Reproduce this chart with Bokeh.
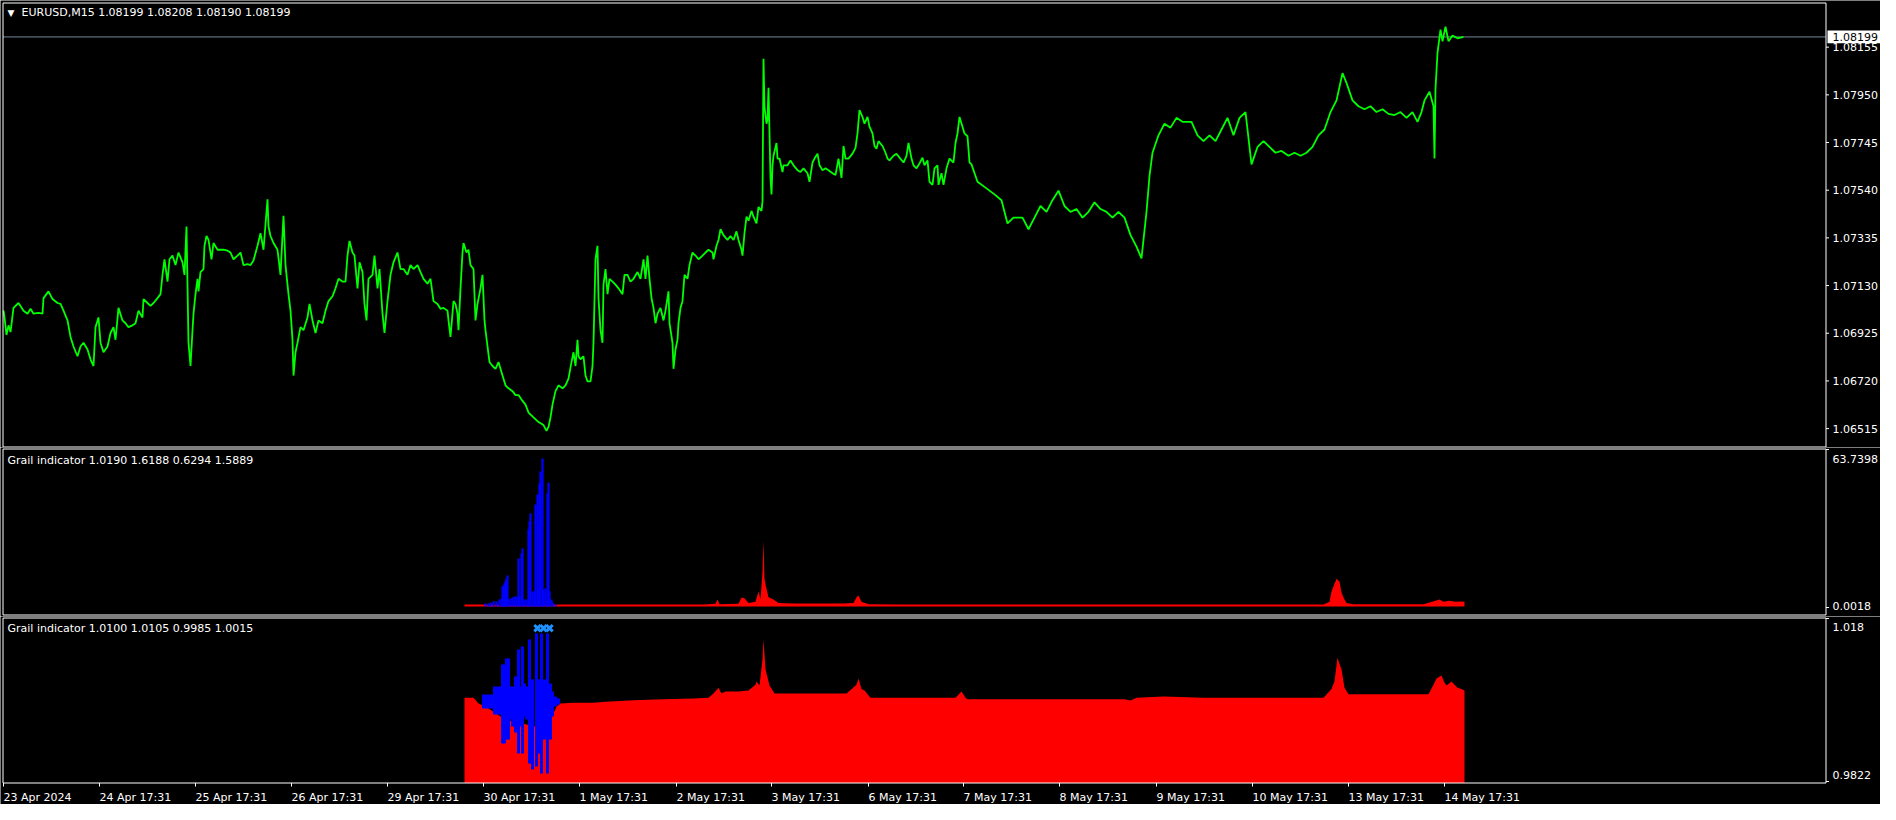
from bokeh.plotting import figure
from bokeh.models import Range1d, ColumnDataSource, Label
from bokeh.core.properties import value
from bokeh.layouts import column
from bokeh.embed import file_html
from bokeh.resources import INLINE

# ---------------- data ----------------
symbol_title = "EURUSD,M15  1.08199 1.08208 1.08190 1.08199"
grail1_title = "Grail indicator 1.0190 1.6188 0.6294 1.5889"
grail2_title = "Grail indicator 1.0100 1.0105 0.9985 1.0015"
last_price = 1.08199

# x-axis ticks (bar index) and their labels
tick_bars = [0, 96, 192, 288, 384, 480, 576, 673, 768, 865, 960, 1056, 1153, 1249, 1345, 1441]
tick_labels = ["23 Apr 2024", "24 Apr 17:31", "25 Apr 17:31", "26 Apr 17:31", "29 Apr 17:31",
               "30 Apr 17:31", "1 May 17:31", "2 May 17:31", "3 May 17:31", "6 May 17:31",
               "7 May 17:31", "8 May 17:31", "9 May 17:31", "10 May 17:31", "13 May 17:31",
               "14 May 17:31"]
price_ticks = [1.06515, 1.06720, 1.06925, 1.07130, 1.07335, 1.07540, 1.07745, 1.07950, 1.08155]
g1_ticks = [63.7398, 0.0018]
g1_tick_labels = ["63.7398", "0.0018"]
g2_ticks = [1.018, 0.9822]
g2_tick_labels = ["1.018", "0.9822"]

# EURUSD M15 close (bar index, price)
close_bars = [0, 1, 3, 5, 7, 10, 15, 20, 24, 27, 30, 35, 39, 40, 45, 49, 54, 57, 60, 64, 67, 70, 74, 77, 80, 84, 87, 90, 92, 95,
              97, 100, 104, 107, 110, 112, 115, 119, 122, 125, 129, 132, 135, 139, 140, 144, 147, 150, 154, 157, 159, 161, 164, 166, 169, 172, 175, 179, 181, 183,
              185, 187, 189, 190, 192, 194, 195, 197, 200, 201, 203, 205, 208, 210, 214, 217, 220, 224, 227, 230, 234, 237, 240, 244, 247, 250, 254, 257, 260, 264,
              265, 267, 270, 274, 277, 280, 282, 284, 285, 287, 289, 290, 292, 294, 297, 300, 304, 306, 309, 312, 315, 319, 322, 325, 329, 332, 335, 339, 342, 344,
              346, 349, 351, 354, 356, 359, 361, 363, 365, 369, 371, 374, 376, 379, 381, 384, 387, 390, 394, 397, 400, 404, 407, 410, 414, 417, 420, 424, 427, 430,
              434, 437, 440, 444, 445, 447, 450, 452, 454, 455, 457, 459, 460, 463, 465, 467, 470, 472, 474, 477, 479, 481, 482, 484, 486, 489, 492, 495, 499, 502,
              505, 509, 512, 515, 519, 522, 525, 530, 535, 540, 543, 545, 547, 549, 552, 555, 559, 562, 565, 568, 570, 572, 574, 575, 577, 580, 582, 584, 587, 589,
              590, 592, 594, 595, 597, 599, 600, 602, 604, 606, 609, 612, 615, 619, 621, 624, 627, 630, 634, 637, 640, 642, 644, 646, 648, 650, 652, 654, 657, 660,
              662, 665, 666, 669, 670, 672, 674, 675, 677, 679, 681, 684, 686, 689, 692, 695, 699, 702, 705, 709, 710, 713, 715, 717, 720, 724, 727, 730, 733, 735,
              738, 739, 741, 743, 745, 748, 750, 753, 755, 758, 759, 760, 761, 763, 764, 765, 767, 768, 769, 770, 773, 774, 776, 779, 780, 784, 787, 790, 794, 797,
              800, 804, 806, 809, 811, 814, 816, 819, 822, 825, 829, 832, 835, 838, 840, 842, 845, 849, 852, 854, 856, 859, 861, 864, 866, 869, 871, 873, 875, 879,
              882, 884, 886, 890, 893, 896, 900, 903, 905, 908, 910, 913, 916, 919, 921, 924, 926, 929, 931, 934, 935, 938, 940, 943, 946, 950, 952, 954, 956, 959,
              961, 964, 966, 968, 974, 982, 991, 998, 1004, 1010, 1019, 1025, 1031, 1037, 1043, 1049, 1055, 1061, 1067, 1073, 1079, 1085, 1091, 1097, 1103, 1109, 1115, 1121,
              1127, 1133, 1138, 1143, 1146, 1149, 1155, 1161, 1167, 1173, 1179, 1188, 1194, 1200, 1206, 1212, 1218, 1224, 1230, 1236, 1242, 1248, 1254, 1260, 1266, 1272,
              1278, 1285, 1291, 1297, 1303, 1309, 1315, 1321, 1327, 1333, 1339, 1343, 1349, 1355, 1361, 1367, 1373, 1379, 1385, 1391, 1397, 1403, 1409, 1414, 1418, 1421,
              1426, 1430, 1431, 1432, 1434, 1437, 1439, 1442, 1445, 1449, 1454, 1460]
close_vals = [1.07022, 1.06993, 1.06918, 1.06959, 1.06930, 1.07034, 1.07055, 1.07022, 1.07009, 1.07030, 1.07009, 1.07013, 1.07009, 1.07076, 1.07105, 1.07072, 1.07055, 1.07051, 1.07022, 1.06980, 1.06909, 1.06868, 1.06826, 1.06868, 1.06884, 1.06855, 1.06813, 1.06784, 1.06951, 1.06993,
              1.06884, 1.06843, 1.06868, 1.06926, 1.06951, 1.06897, 1.07034, 1.06980, 1.06968, 1.06951, 1.06959, 1.06968, 1.07022, 1.06993, 1.07072, 1.07055, 1.07043, 1.07055, 1.07076, 1.07093, 1.07176, 1.07243, 1.07147, 1.07243, 1.07259, 1.07218, 1.07272, 1.07230, 1.07176, 1.07384,
              1.06884, 1.06784, 1.06938, 1.07009, 1.07093, 1.07159, 1.07105, 1.07188, 1.07201, 1.07301, 1.07343, 1.07326, 1.07243, 1.07313, 1.07284, 1.07284, 1.07284, 1.07280, 1.07272, 1.07243, 1.07259, 1.07272, 1.07218, 1.07222, 1.07218, 1.07238, 1.07301, 1.07355, 1.07284, 1.07501,
              1.07384, 1.07343, 1.07313, 1.07284, 1.07176, 1.07430, 1.07218, 1.07134, 1.07093, 1.07022, 1.06897, 1.06743, 1.06843, 1.06884, 1.06951, 1.06938, 1.06993, 1.07051, 1.06980, 1.06926, 1.06980, 1.06968, 1.07022, 1.07063, 1.07084, 1.07118, 1.07159, 1.07147, 1.07147, 1.07259,
              1.07322, 1.07272, 1.07259, 1.07118, 1.07230, 1.07188, 1.07051, 1.06980, 1.07159, 1.07176, 1.07259, 1.07118, 1.07201, 1.07009, 1.06926, 1.07063, 1.07176, 1.07230, 1.07272, 1.07201, 1.07201, 1.07176, 1.07218, 1.07201, 1.07218, 1.07188, 1.07159, 1.07138, 1.07159, 1.07063,
              1.07051, 1.07030, 1.07034, 1.07022, 1.06980, 1.06909, 1.07063, 1.07051, 1.07009, 1.06938, 1.07118, 1.07272, 1.07313, 1.07272, 1.07284, 1.07218, 1.07201, 1.06980, 1.07051, 1.07118, 1.07176, 1.06980, 1.06938, 1.06868, 1.06801, 1.06784, 1.06772, 1.06801, 1.06743, 1.06701,
              1.06688, 1.06676, 1.06659, 1.06659, 1.06634, 1.06618, 1.06584, 1.06563, 1.06543, 1.06530, 1.06505, 1.06522, 1.06563, 1.06618, 1.06676, 1.06701, 1.06688, 1.06701, 1.06730, 1.06801, 1.06843, 1.06784, 1.06897, 1.06826, 1.06813, 1.06826, 1.06743, 1.06718, 1.06718, 1.06784,
              1.06884, 1.07243, 1.07301, 1.07076, 1.06938, 1.06884, 1.07134, 1.07201, 1.07093, 1.07159, 1.07147, 1.07134, 1.07118, 1.07093, 1.07176, 1.07176, 1.07147, 1.07159, 1.07188, 1.07159, 1.07243, 1.07159, 1.07259, 1.07159, 1.07076, 1.07034, 1.06968, 1.07009, 1.07034, 1.06980,
              1.07022, 1.07105, 1.06968, 1.06884, 1.06772, 1.06855, 1.06897, 1.06968, 1.07034, 1.07063, 1.07176, 1.07159, 1.07218, 1.07272, 1.07259, 1.07243, 1.07259, 1.07272, 1.07284, 1.07272, 1.07243, 1.07301, 1.07326, 1.07372, 1.07347, 1.07326, 1.07343, 1.07326, 1.07363, 1.07326,
              1.07284, 1.07259, 1.07355, 1.07426, 1.07409, 1.07451, 1.07426, 1.07397, 1.07468, 1.07451, 1.07493, 1.08105, 1.07897, 1.07826, 1.07843, 1.07980, 1.07593, 1.07522, 1.07647, 1.07688, 1.07743, 1.07676, 1.07676, 1.07618, 1.07647, 1.07647, 1.07668, 1.07647, 1.07626, 1.07618,
              1.07634, 1.07613, 1.07576, 1.07659, 1.07676, 1.07697, 1.07647, 1.07626, 1.07634, 1.07626, 1.07613, 1.07605, 1.07676, 1.07593, 1.07730, 1.07676, 1.07676, 1.07697, 1.07722, 1.07784, 1.07884, 1.07855, 1.07826, 1.07855, 1.07813, 1.07784, 1.07730, 1.07718, 1.07751, 1.07730,
              1.07701, 1.07676, 1.07668, 1.07688, 1.07697, 1.07680, 1.07659, 1.07688, 1.07743, 1.07676, 1.07647, 1.07634, 1.07655, 1.07680, 1.07647, 1.07668, 1.07576, 1.07563, 1.07634, 1.07647, 1.07563, 1.07613, 1.07563, 1.07634, 1.07676, 1.07659, 1.07743, 1.07784, 1.07855, 1.07813,
              1.07784, 1.07772, 1.07659, 1.07651, 1.07576, 1.07551, 1.07522, 1.07497, 1.07397, 1.07422, 1.07422, 1.07372, 1.07422, 1.07472, 1.07447, 1.07497, 1.07538, 1.07472, 1.07447, 1.07459, 1.07422, 1.07447, 1.07488, 1.07459, 1.07447, 1.07422, 1.07447, 1.07422,
              1.07347, 1.07297, 1.07247, 1.07447, 1.07601, 1.07701, 1.07776, 1.07826, 1.07809, 1.07851, 1.07834, 1.07834, 1.07776, 1.07751, 1.07776, 1.07751, 1.07801, 1.07851, 1.07776, 1.07851, 1.07876, 1.07651, 1.07726, 1.07751, 1.07726, 1.07701,
              1.07709, 1.07688, 1.07701, 1.07688, 1.07701, 1.07726, 1.07776, 1.07801, 1.07876, 1.07926, 1.08043, 1.08001, 1.07926, 1.07901, 1.07888, 1.07901, 1.07876, 1.07888, 1.07868, 1.07863, 1.07876, 1.07851, 1.07876, 1.07834, 1.07876, 1.07926,
              1.07963, 1.07901, 1.07676, 1.07976, 1.08130, 1.08230, 1.08180, 1.08243, 1.08180, 1.08205, 1.08193, 1.08199]

# Grail indicator #1: red histogram and blue histogram
g1_red_bars = [461, 480, 500, 520, 540, 560, 600, 650, 700, 712, 714, 716, 735, 738, 741, 745, 752, 755, 757, 759, 760, 761, 762, 765, 770, 775,
               790, 840, 850, 853, 855, 858, 865, 900, 1000, 1100, 1200, 1320, 1326, 1328, 1333, 1336, 1338, 1340, 1343, 1350, 1420, 1432, 1436, 1440,
               1446, 1452, 1458, 1461]
g1_red_vals = [0.9, 0.9, 0.8, 0.8, 0.8, 0.9, 0.9, 0.9, 0.9, 1.2, 3.0, 1.0, 1.2, 3.9, 3.5, 1.5, 2.0, 6.5, 3.0, 15.0, 28.4, 12.0, 9.5, 4.0, 3.0, 1.5,
               1.3, 1.3, 1.5, 4.0, 4.7, 2.0, 1.0, 0.9, 0.9, 0.9, 0.9, 0.9, 2.0, 6.5, 12.0, 10.8, 6.0, 3.9, 1.5, 1.0, 1.0, 2.5, 3.0, 2.0,
               2.5, 2.0, 2.2, 2.0]
g1_blue_bars = [482, 485, 487, 490, 493, 496, 498, 499, 500, 501, 502, 503, 504, 505, 507, 509, 511, 513, 515, 516, 518, 519, 521, 523, 525,
                526, 527, 529, 531, 532, 534, 535, 536, 537, 539, 540, 542, 544, 545, 546, 548, 549, 552]
g1_blue_vals = [1.3, 1.3, 1.7, 2.2, 2.2, 3.0, 3.4, 8.6, 9.0, 9.9, 10.8, 12.1, 13.4, 3.0, 3.4, 3.9, 4.3, 4.3, 20.7, 4.3, 22.8, 25.0, 3.0, 3.0, 33.2,
                36.6, 40.1, 6.5, 6.5, 43.9, 48.2, 7.3, 53.0, 58.1, 63.7398, 7.3, 7.8, 48.7, 53.4, 6.5, 3.0, 1.7, 0.9]

# Grail indicator #2: red histogram top, blue bars (low/high), signal marks
g2_red_bars = [461, 470, 475, 482, 490, 497, 502, 512, 522, 532, 542, 549, 553, 557, 570, 590, 602, 630, 660, 690, 705, 710, 715, 718, 722,
               735, 745, 752, 753, 756, 759, 760, 762, 766, 771, 800, 843, 853, 855, 858, 861, 867, 900, 952, 958, 962, 964, 1000, 1060, 1121,
               1127, 1133, 1160, 1200, 1260, 1320, 1328, 1331, 1334, 1336, 1338, 1341, 1345, 1380, 1425, 1430, 1433, 1438, 1441, 1443, 1448,
               1451, 1454, 1458, 1461]
g2_red_vals = [1.0009, 1.0009, 0.9995, 0.9988, 0.9975, 0.9964, 0.9957, 0.9950, 0.9945, 0.9940, 0.9945, 0.9965, 0.9988, 0.9995, 0.9997, 0.9997, 0.9999, 1.0003, 1.0005, 1.0007, 1.0009, 1.0019, 1.0033, 1.0019, 1.0024,
               1.0024, 1.0026, 1.0040, 1.0048, 1.0038, 1.0100, 1.0149, 1.0077, 1.0038, 1.0019, 1.0019, 1.0019, 1.0040, 1.0055, 1.0030, 1.0026, 1.0009, 1.0009, 1.0009, 1.0024, 1.0009, 1.0005, 1.0005, 1.0005, 1.0005,
               1.0002, 1.0009, 1.0012, 1.0009, 1.0009, 1.0009, 1.0030, 1.0048, 1.0105, 1.0090, 1.0077, 1.0033, 1.0017, 1.0017, 1.0017, 1.0040, 1.0055, 1.0062, 1.0045, 1.0038, 1.0048,
               1.0040, 1.0033, 1.0030, 1.0026]
g2_blue_bars = [480, 483, 486, 489, 491, 494, 497, 499, 501, 503, 505, 507, 509, 512, 515, 517, 519, 521, 523, 526, 529, 533, 535, 538, 541,
                544, 547, 549, 552, 555]
g2_blue_low = [0.99830, 0.99830, 0.99830, 0.99830, 0.99686, 0.99686, 0.99686, 0.98989, 0.98989, 0.99085, 0.99085, 0.99566, 0.99397, 0.99253, 0.98749,
               0.99397, 0.98749, 0.99638, 0.99566, 0.98508, 0.98364, 0.98436, 0.98749, 0.98268, 0.99085, 0.98268, 0.99085, 0.99638, 0.99878, 0.99926]
g2_blue_high = [1.00166, 1.00166, 1.00166, 1.00166, 1.00358, 1.00358, 1.00358, 1.00887, 1.00887, 1.01031, 1.01031, 1.00358, 1.00358, 1.00599, 1.01247,
                1.00358, 1.01320, 1.00431, 1.00358, 1.01488, 1.00527, 1.01632, 1.00527, 1.01632, 1.00527, 1.01632, 1.00431, 1.00238, 1.00118, 1.00070]
g2_mark_bars = [534, 540, 546]
g2_mark_vals = [1.0176, 1.0176, 1.0176]

# ---------------- layout / styling ----------------
FONT = "DejaVu Sans"
FS = "11px"
W = 1880
X_RANGE = Range1d(-3, 1877)          # one pixel per M15 bar
PANE_L, PANE_R = -0.5, 1822.5        # pane borders (bar units)
TICK_X0, TICK_X1 = 1822.5, 1825.5    # right-scale tick marks
LABEL_X = 1829                       # right-scale labels


class Pane:
    def __init__(self, height, lo, hi):
        self.h, self.lo, self.hi = height, lo, hi
        p = figure(width=W, height=height, x_range=X_RANGE, y_range=Range1d(lo, hi), title=None,
                   output_backend="svg", toolbar_location=None,
                   x_axis_location=None, y_axis_location=None, min_border=0,
                   outline_line_color=None, background_fill_color="black",
                   border_fill_color="black")
        p.xgrid.visible = False
        p.ygrid.visible = False
        self.p = p

    def yv(self, px):
        """value at a local pixel row (0 = top of this pane's canvas)"""
        return self.hi - px * (self.hi - self.lo) / self.h

    def border(self, top_px, bottom_px):
        self.p.quad(left=PANE_L, right=PANE_R, top=self.yv(top_px), bottom=self.yv(bottom_px),
                    fill_color=None, line_color="white", line_width=1)

    def scale(self, label_vals, labels, tick_vals):
        src = ColumnDataSource(dict(x=[LABEL_X] * len(labels), y=label_vals, text=labels))
        self.p.text(x="x", y="y", text="text", source=src, text_color="white",
                    text_font=value(FONT), text_font_size=FS,
                    text_align="left", text_baseline="middle")
        self.p.segment(x0=[TICK_X0] * len(tick_vals), x1=[TICK_X1] * len(tick_vals),
                       y0=tick_vals, y1=tick_vals, line_color="white", line_width=1)

    def title(self, x_px, y_px, text, size=FS, align="left"):
        self.p.add_layout(Label(x=x_px, y=self.h - y_px, x_units="screen", y_units="screen",
                                text=text, text_color="white", text_font=FONT,
                                text_font_size=size, text_align=align,
                                text_baseline="middle"))


# ---- main price pane ----
m = Pane(447, 1.064337, 1.083556)
m.p.segment(x0=[PANE_L], x1=[PANE_R], y0=[last_price], y1=[last_price],
            line_color="#778899", line_width=1)
m.p.line(close_bars, close_vals, line_color="#00FF00", line_width=1.8)
m.border(2.5, 446.5)
m.scale(price_ticks, ["%.5f" % t for t in price_ticks], price_ticks)
m.title(21, 12, symbol_title)
m.title(10.5, 12.5, "\u25bc", size="9px", align="center")
half = 6.3 * (m.hi - m.lo) / m.h
m.p.quad(left=[1824], right=[1877], top=[last_price + half], bottom=[last_price - half],
         fill_color="white", line_color=None)
m.p.text(x=[LABEL_X], y=[last_price], text=["%.5f" % last_price], text_color="black",
         text_font=value(FONT), text_font_size=FS, text_align="left", text_baseline="middle")

# ---- Grail indicator 1 ----
g1 = Pane(169, -4.307, 68.478)
g1.p.varea(x=g1_red_bars, y1=0, y2=g1_red_vals, fill_color="#FF0000")
g1.p.vbar(x=g1_blue_bars, bottom=0, top=g1_blue_vals, width=2.2, fill_color="#0000FF", line_color=None)
g1.border(1.5, 167.5)
g1.scale(g1_ticks, g1_tick_labels, [g1.yv(2), g1.yv(160)])
g1.title(7, 13, grail1_title)

# ---- Grail indicator 2 (with time scale) ----
g2 = Pane(188, 0.975232, 1.020403)
g2.p.varea(x=g2_red_bars, y1=g2.yv(166.5), y2=g2_red_vals, fill_color="#FF0000")
g2.p.vbar(x=g2_blue_bars, bottom=g2_blue_low, top=g2_blue_high, width=3, fill_color="#0000FF", line_color=None)
g2.p.scatter(g2_mark_bars, g2_mark_vals, marker="x", size=9, line_width=3, line_color="#1E90FF")
g2.border(1.5, 166.5)
g2.scale(g2_ticks, g2_tick_labels, [g2.yv(2), g2.yv(165)])
g2.title(7, 11.6, grail2_title)
# time scale: tick marks under the pane and left-aligned labels
g2.p.segment(x0=tick_bars, x1=tick_bars, y0=[g2.yv(166.5)] * len(tick_bars),
             y1=[g2.yv(170)] * len(tick_bars), line_color="white", line_width=1)
tsrc = ColumnDataSource(dict(x=tick_bars, y=[g2.yv(180.5)] * len(tick_bars), text=tick_labels))
g2.p.text(x="x", y="y", text="text", source=tsrc, text_color="white", text_font=value(FONT),
          text_font_size=FS, text_align="left", text_baseline="alphabetic")

layout = column(m.p, g1.p, g2.p, spacing=0)
open("out.html", "w").write(file_html(layout, INLINE))
